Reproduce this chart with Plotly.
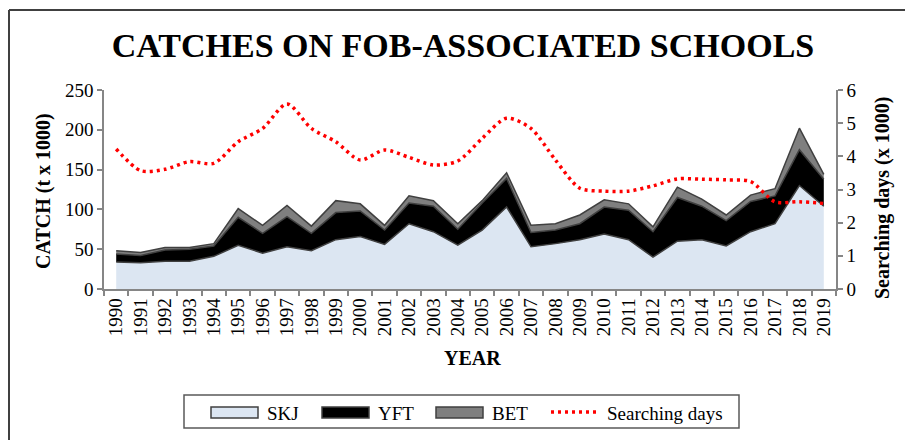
import plotly.graph_objects as go

years = [str(y) for y in range(1990, 2020)]
skj = [34, 33, 35, 35, 41, 55, 45, 53, 48, 62, 66, 56, 82, 72, 55, 74, 103, 53, 57, 62, 69, 62, 40, 60, 62, 54, 72, 82, 130, 104]
yft_top = [44, 42, 49, 50, 54, 90, 70, 91, 70, 96, 98, 74, 108, 104, 75, 108, 139, 71, 74, 82, 103, 99, 72, 115, 104, 86, 110, 117, 175, 138]
bet_top = [48, 46, 52, 52, 57, 101, 80, 105, 79, 111, 107, 80, 117, 111, 82, 111, 146, 80, 82, 93, 112, 107, 78, 128, 113, 93, 118, 126, 202, 144]
yft = [round(a - b, 1) for a, b in zip(yft_top, skj)]
bet = [round(a - b, 1) for a, b in zip(bet_top, yft_top)]
search_days = [4.22, 3.57, 3.61, 3.84, 3.79, 4.44, 4.84, 5.58, 4.84, 4.44, 3.89, 4.19, 3.97, 3.74, 3.86,
               4.54, 5.15, 4.84, 3.89, 3.04, 2.95, 2.95, 3.11, 3.32, 3.31, 3.29, 3.24, 2.63, 2.63, 2.58]

FONT = "Liberation Serif, Times New Roman, serif"
outline = "#404040"
SKJ_C, YFT_C, BET_C, SD_C = "#DCE6F2", "#000000", "#7F7F7F", "#FF0000"

fig = go.Figure()
fig.add_trace(go.Scatter(x=years, y=skj, name="SKJ", stackgroup="one", mode="lines",
                         line=dict(color=outline, width=1.5), fillcolor=SKJ_C))
fig.add_trace(go.Scatter(x=years, y=yft, name="YFT", stackgroup="one", mode="lines",
                         line=dict(color=outline, width=1.5), fillcolor=YFT_C))
fig.add_trace(go.Scatter(x=years, y=bet, name="BET", stackgroup="one", mode="lines",
                         line=dict(color=outline, width=1.5), fillcolor=BET_C))
fig.add_trace(go.Scatter(x=years, y=search_days, name="Searching days", mode="lines", yaxis="y2",
                         line=dict(color=SD_C, width=3.5, dash="3px,4px", shape="spline", smoothing=0.8)))

L, R, T, B = 104, 69, 90, 151
PW, PH = 905 - L - R, 440 - T - B

def px(x):
    return (x - L) / PW

def py(y):
    return (440 - B - y) / PH

axis_common = dict(showgrid=False, zeroline=False, showline=True, linecolor="#868686", linewidth=1.5,
                   ticks="outside", ticklen=5, tickcolor="#868686", tickwidth=1.5, automargin=False,
                   tickfont=dict(family=FONT, size=19, color="#000"))

shapes = [
    dict(type="line", xref="paper", yref="paper", x0=px(9), y0=py(10), x1=px(910), y1=py(10),
         line=dict(color="#404040", width=2)),
    dict(type="line", xref="paper", yref="paper", x0=px(9), y0=py(10), x1=px(9), y1=py(445),
         line=dict(color="#404040", width=2)),
    # legend box
    dict(type="rect", xref="paper", yref="paper", x0=px(184), y0=py(395), x1=px(739), y1=py(428),
         line=dict(color="#595959", width=1.5), fillcolor="white"),
]
ann_base = dict(xref="paper", yref="paper", showarrow=False, xanchor="center", yanchor="middle")
annotations = [
    dict(text="<b>CATCH (t x 1000)</b>", x=px(43), y=py(191), textangle=-90,
         font=dict(family=FONT, size=20, color="#000"), **ann_base),
    dict(text="<b>Searching days (x 1000)</b>", x=px(882), y=py(198), textangle=-90,
         font=dict(family=FONT, size=20, color="#000"), **ann_base),
    dict(text="<b>YEAR</b>", x=px(472), y=py(358),
         font=dict(family=FONT, size=20, color="#000"), **ann_base),
]

legend_items = [("SKJ", SKJ_C, 211, 265), ("YFT", YFT_C, 322, 376), ("BET", BET_C, 436, 490)]
for name, col, sx, tx in legend_items:
    shapes.append(dict(type="rect", xref="paper", yref="paper", x0=px(sx), y0=py(407), x1=px(sx + 47),
                       y1=py(418), line=dict(color=outline, width=1.5), fillcolor=col))
    annotations.append(dict(text=name, x=px(tx), y=py(413), xref="paper", yref="paper", xanchor="left",
                            yanchor="middle", showarrow=False, font=dict(family=FONT, size=19, color="#000")))
shapes.append(dict(type="line", xref="paper", yref="paper", x0=px(551), y0=py(412), x1=px(597), y1=py(412),
                   line=dict(color=SD_C, width=3.5, dash="3px,4px")))
annotations.append(dict(text="Searching days", x=px(605), y=py(413), xref="paper", yref="paper",
                        xanchor="left", yanchor="middle", showarrow=False,
                        font=dict(family=FONT, size=19, color="#000")))

fig.update_layout(
    width=905, height=440,
    margin=dict(l=L, r=R, t=T, b=B),
    plot_bgcolor="white", paper_bgcolor="white",
    title=dict(text="<b>CATCHES ON FOB-ASSOCIATED SCHOOLS</b>", x=463 / 905, xanchor="center",
               y=1 - 45 / 440, yanchor="middle", yref="container",
               font=dict(family=FONT, size=34, color="#000")),
    xaxis=dict(type="category", range=[-0.5, 29.5], tickson="boundaries", tickangle=-90, **axis_common),
    yaxis=dict(range=[0, 250], dtick=50, **axis_common),
    yaxis2=dict(range=[0, 6], dtick=1, overlaying="y", side="right", **axis_common),
    showlegend=False,
    annotations=annotations,
    shapes=shapes,
)

fig.write_html("out.html", config={"displayModeBar": False},
               post_script="document.body.style.margin='0';document.body.style.overflow='hidden';")
